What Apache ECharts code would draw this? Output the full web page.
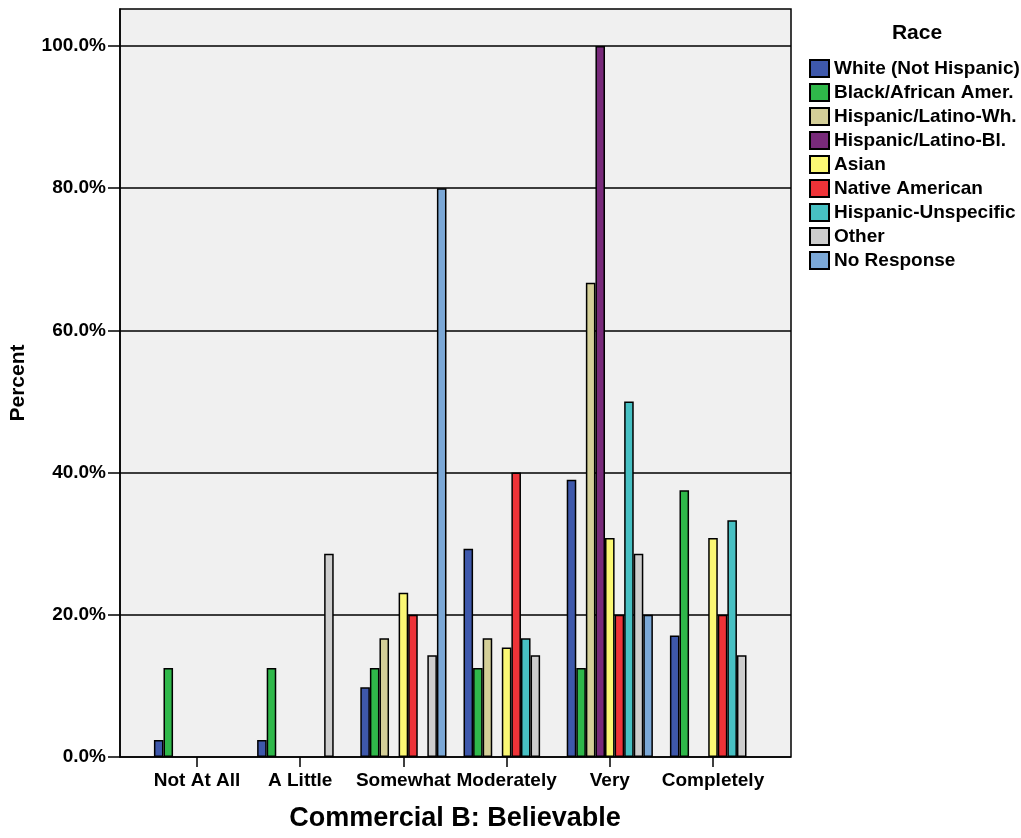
<!DOCTYPE html>
<html>
<head>
<meta charset="utf-8">
<script src="https://cdn.jsdelivr.net/npm/echarts@6/dist/echarts.min.js"></script>
<style>
html,body{margin:0;padding:0;background:#fff;}
#chart{width:1021px;height:838px;}
</style>
</head>
<body>
<div id="chart"></div>
<script>
const categories = ['Not At All', 'A Little', 'Somewhat', 'Moderately', 'Very', 'Completely'];
const seriesNames = ['White (Not Hispanic)', 'Black/African Amer.', 'Hispanic/Latino-Wh.', 'Hispanic/Latino-Bl.', 'Asian', 'Native American', 'Hispanic-Unspecific', 'Other', 'No Response'];
const whiteNotHispanic = [2.4, 2.4, 9.8, 29.3, 39.0, 17.1];
const blackAfricanAmer = [12.5, 12.5, 12.5, 12.5, 12.5, 37.5];
const hispanicLatinoWh = [null, null, 16.7, 16.7, 66.7, null];
const hispanicLatinoBl = [null, null, null, null, 100.0, null];
const asian = [null, null, 23.1, 15.4, 30.8, 30.8];
const nativeAmerican = [null, null, 20.0, 40.0, 20.0, 20.0];
const hispanicUnspecific = [null, null, null, 16.7, 50.0, 33.3];
const other = [null, 28.6, 14.3, 14.3, 28.6, 14.3];
const noResponse = [null, null, 80.0, null, 20.0, null];
const yTicks = [0, 20, 40, 60, 80, 100];

const seriesData = [whiteNotHispanic, blackAfricanAmer, hispanicLatinoWh, hispanicLatinoBl, asian, nativeAmerican, hispanicUnspecific, other, noResponse];
const colors = ['#3e58ab', '#2fb84a', '#d4cf98', '#782a7a', '#fbf874', '#ee3338', '#47c0c3', '#cdcdcd', '#7ba8d7'];

const font = 'Liberation Sans, Arial, sans-serif';
const chart = echarts.init(document.getElementById('chart'), null, {renderer: 'canvas'});
const yMax = 105.2;

chart.setOption({
  backgroundColor: '#ffffff',
  animation: false,
  title: {
    text: 'Race',
    left: 917,
    top: 23,
    padding: 0,
    textAlign: 'center',
    textStyle: {fontFamily: font, fontWeight: 'bold', fontSize: 21, color: '#000'}
  },
  legend: {
    orient: 'vertical',
    left: 809,
    top: 59,
    padding: 0,
    itemWidth: 19,
    itemHeight: 17,
    itemGap: 5,
    icon: 'rect',
    data: seriesNames,
    textStyle: {fontFamily: font, fontWeight: 'bold', fontSize: 19, color: '#000', lineHeight: 17}
  },
  grid: [
    {left: 120, right: 230, top: 9, bottom: 81, show: true, backgroundColor: '#f0f0f0', borderColor: '#000', borderWidth: 1.5, containLabel: false, outerBoundsMode: 'none'},
    {left: 145.4, right: 256.4, top: 9, bottom: 81, containLabel: false, outerBoundsMode: 'none'}
  ],
  xAxis: [
    {type: 'value', gridIndex: 0, show: false, min: 0, max: 1},
    {
      type: 'category', gridIndex: 1, data: categories,
      axisLine: {show: false},
      axisTick: {show: true, alignWithLabel: true, length: 10, lineStyle: {color: '#000', width: 1.5}},
      axisLabel: {interval: 0, margin: 14, fontFamily: font, fontWeight: 'bold', fontSize: 19, color: '#000'},
      name: 'Commercial B: Believable',
      nameLocation: 'middle',
      nameGap: 48,
      nameTextStyle: {fontFamily: font, fontWeight: 'bold', fontSize: 27, color: '#000'}
    }
  ],
  yAxis: [
    {
      type: 'value', gridIndex: 0, min: 0, max: yMax, interval: 20,
      axisLine: {show: true, lineStyle: {color: '#000', width: 1.5}},
      axisTick: {show: true, length: 12, lineStyle: {color: '#000', width: 1.5}, customValues: yTicks},
      axisLabel: {
        margin: 14, fontFamily: font, fontWeight: 'bold', fontSize: 19, color: '#000',
        customValues: yTicks,
        formatter: v => (Math.abs(v % 20) < 1e-6 ? v.toFixed(1) + '%' : '')
      },
      splitLine: {show: true, lineStyle: {color: '#000', width: 1.5}},
      name: 'Percent',
      nameLocation: 'middle',
      nameGap: 91,
      nameTextStyle: {fontFamily: font, fontWeight: 'bold', fontSize: 21, color: '#000'}
    },
    {type: 'value', gridIndex: 1, min: 0, max: yMax, show: false, splitLine: {show: false}}
  ],
  series: seriesNames.map((name, i) => ({
    name: name,
    type: 'bar',
    xAxisIndex: 1,
    yAxisIndex: 1,
    data: seriesData[i],
    barGap: '0%',
    barCategoryGap: '16.5%',
    itemStyle: {color: colors[i], borderColor: '#000', borderWidth: 1.5},
    emphasis: {disabled: true}
  }))
});
</script>
</body>
</html>
